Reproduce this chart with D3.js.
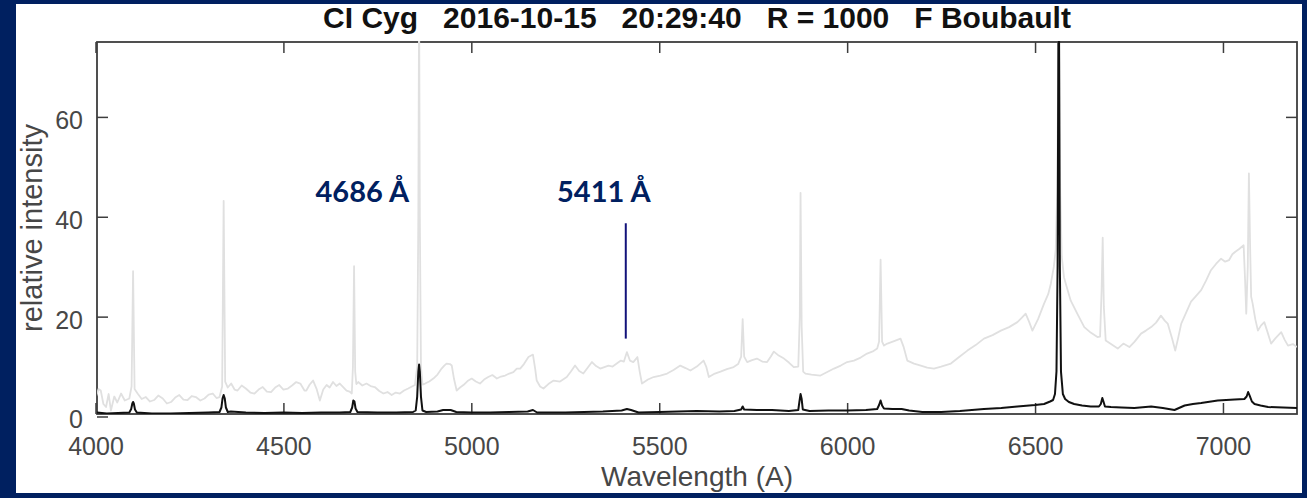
<!DOCTYPE html>
<html>
<head>
<meta charset="utf-8">
<script src="https://cdn.jsdelivr.net/npm/d3@7"></script>
<style>
  body { margin: 0; background: #002060; }
  svg { display: block; }
</style>
</head>
<body>
<div id="spectrum"></div>
<script>
// title and axis text
let titleText = 'CI Cyg   2016-10-15   20:29:40   R = 1000   F Boubault';
let xLabel = 'Wavelength (A)';
let yLabel = 'relative intensity';
let wavelengthTicks = [4000, 4500, 5000, 5500, 6000, 6500, 7000];
let intensityTicks = [0, 20, 40, 60];

// light grey spectrum [wavelength, intensity]
let greySpectrum = [
  [4001, 3.9], [4008, 5.5], [4014, 5.2], [4021, 2.5], [4028, 1.9], [4035, 4.5], [4041, 1.2],
  [4050, 4.0], [4058, 2.8], [4068, 4.6], [4078, 3.2], [4090, 3.6], [4096, 6], [4100, 29.1],
  [4104, 5.5], [4112, 4.6], [4123, 3.5], [4134, 3.9], [4145, 3.0], [4156, 3.3], [4167, 4.2],
  [4179, 3.6], [4190, 2.6], [4201, 2.9], [4212, 3.8], [4223, 4.3], [4234, 3.4], [4245, 3.3],
  [4256, 4.1], [4267, 3.9], [4279, 3.2], [4290, 3.6], [4301, 4.4], [4312, 4.6], [4322, 3.7],
  [4330, 3.9], [4337, 6], [4341, 43.2], [4345, 7], [4352, 5.8], [4361, 6.6], [4370, 5.4],
  [4378, 5.2], [4389, 6.2], [4400, 5.6], [4412, 4.8], [4423, 4.6], [4434, 5.4], [4445, 5.9],
  [4456, 5.0], [4467, 4.9], [4478, 5.8], [4489, 6.3], [4500, 5.4], [4512, 5.6], [4523, 6.2],
  [4534, 6.9], [4545, 6.6], [4556, 5.2], [4561, 5.2], [4570, 6.4], [4579, 7.2], [4588, 5.6],
  [4597, 3.2], [4606, 5.4], [4615, 6.3], [4623, 5.8], [4632, 6.9], [4641, 6.1], [4650, 6.6],
  [4659, 5.9], [4668, 5.2], [4676, 5.0], [4682, 4.6], [4685, 10], [4688, 30.1], [4691, 9],
  [4694, 6.5], [4699, 6.9], [4710, 6.2], [4721, 6.6], [4732, 6.1], [4743, 5.9], [4755, 5.1],
  [4766, 4.6], [4777, 4.9], [4788, 4.3], [4799, 4.8], [4810, 4.6], [4821, 5.2], [4832, 5.6],
  [4842, 6.0], [4850, 6.3], [4856, 10], [4859, 40], [4861, 85], [4863, 40], [4866, 10],
  [4870, 6.4], [4877, 6.6], [4888, 7.0], [4899, 7.6], [4910, 8.4], [4921, 9.6], [4928, 10.2],
  [4934, 10.6], [4943, 10.5], [4948, 10.2], [4954, 7.5], [4961, 5.2], [4970, 5.8], [4979, 6.3],
  [4990, 7.1], [5001, 7.6], [5012, 7.0], [5023, 6.6], [5034, 7.4], [5045, 7.9], [5056, 8.3],
  [5068, 7.6], [5079, 8.0], [5090, 8.2], [5101, 8.6], [5112, 8.9], [5121, 9.6], [5130, 9.6],
  [5140, 10.5], [5152, 11.9], [5164, 12.4], [5170, 9.5], [5174, 7.2], [5183, 6.0], [5192, 5.6],
  [5205, 6.5], [5219, 7.2], [5236, 7.0], [5254, 7.9], [5265, 9.0], [5276, 10.2], [5287, 9.1],
  [5298, 8.6], [5310, 9.8], [5321, 10.9], [5332, 10.1], [5343, 9.6], [5354, 9.9], [5365, 10.2],
  [5376, 10.0], [5387, 10.6], [5398, 11.2], [5406, 11.0], [5414, 12.9], [5422, 11.2], [5431, 10.9],
  [5442, 11.9], [5448, 9.0], [5454, 6.6], [5470, 7.4], [5485, 7.9], [5503, 8.2], [5521, 8.6],
  [5538, 9.3], [5556, 10.2], [5570, 9.7], [5583, 9.2], [5600, 10.0], [5618, 11.2], [5625, 10.0],
  [5632, 7.9], [5648, 8.6], [5663, 9.0], [5680, 9.5], [5698, 9.9], [5710, 10.5], [5718, 12],
  [5722, 19.5], [5726, 12], [5734, 10.9], [5747, 11.3], [5760, 11.6], [5774, 11.0], [5787, 10.9],
  [5797, 12.0], [5805, 13.0], [5818, 12.2], [5832, 11.6], [5845, 10.8], [5858, 9.9], [5870, 10],
  [5874, 20], [5876, 44.8], [5879, 18], [5883, 9], [5889, 8.6], [5905, 8.4], [5929, 8.2],
  [5947, 8.9], [5965, 9.6], [5983, 10.2], [6000, 10.9], [6018, 11.2], [6036, 11.8], [6053, 12.6],
  [6070, 13.1], [6080, 13.6], [6085, 15], [6089, 31.4], [6093, 15], [6098, 14.2], [6107, 14.6],
  [6125, 15.1], [6142, 15.6], [6150, 14.0], [6160, 11.2], [6178, 10.6], [6196, 10.2], [6213, 9.8],
  [6231, 9.6], [6250, 10.0], [6276, 10.6], [6298, 11.9], [6320, 13.2], [6342, 14.3], [6364, 15.6],
  [6387, 16.3], [6409, 17.2], [6431, 17.9], [6453, 18.9], [6465, 19.8], [6475, 20.6], [6484, 19.0],
  [6493, 17.2], [6508, 19.5], [6524, 22.6], [6535, 24.5], [6542, 26.6], [6550, 30], [6555, 33.4],
  [6559, 45], [6563, 85], [6567, 45], [6571, 32], [6577, 27.9], [6586, 25.5], [6595, 23.2],
  [6613, 20.5], [6631, 17.9], [6648, 16.8], [6666, 15.9], [6673, 16], [6677, 25], [6680, 35.8],
  [6683, 22], [6688, 15.2], [6704, 14.4], [6720, 13.6], [6735, 14.6], [6751, 13.9], [6765, 15.0],
  [6782, 16.6], [6795, 17.2], [6809, 17.9], [6822, 18.8], [6835, 20.2], [6845, 19.2], [6853, 18.6],
  [6865, 15.5], [6873, 13.2], [6881, 15.8], [6889, 18.6], [6902, 20.8], [6915, 23], [6928, 24.1],
  [6942, 25.3], [6955, 27.2], [6968, 29.3], [6982, 30.6], [6995, 31.6], [7006, 31.0], [7016, 31.3],
  [7025, 32.5], [7033, 33], [7044, 33.6], [7055, 34.3], [7059, 27], [7062, 20.6], [7066, 30],
  [7069, 48.7], [7072, 35], [7075, 24], [7079, 22.6], [7086, 19.5], [7093, 17.2], [7101, 18.2],
  [7110, 18.9], [7119, 16.8], [7128, 14.6], [7140, 15.7], [7155, 16.9], [7164, 15.4], [7173, 14.2],
  [7186, 14.5], [7197, 13.9]
];

// black spectrum [wavelength, intensity]
let blackSpectrum = [
  [4004, 0.8], [4030, 0.6], [4060, 0.7], [4090, 0.8], [4095, 1.5], [4098, 2.6], [4100, 2.9],
  [4102, 2.6], [4105, 1.4], [4110, 0.8], [4150, 0.6], [4200, 0.6], [4250, 0.7], [4300, 0.8],
  [4330, 0.9], [4335, 1.8], [4338, 3.6], [4341, 4.3], [4344, 3.6], [4347, 1.8], [4352, 0.9],
  [4360, 1.0], [4400, 0.8], [4450, 0.7], [4500, 0.8], [4550, 0.7], [4600, 0.8], [4650, 0.8],
  [4678, 0.9], [4683, 1.8], [4686, 3.2], [4689, 3.0], [4692, 1.6], [4697, 0.9], [4750, 0.8],
  [4800, 0.8], [4845, 0.9], [4852, 1.2], [4856, 4], [4859, 9], [4861, 10.4], [4863, 9],
  [4866, 4], [4870, 1.2], [4880, 0.9], [4910, 1.0], [4925, 1.3], [4945, 1.3], [4960, 0.9],
  [5000, 0.8], [5050, 0.8], [5100, 0.9], [5150, 1.0], [5164, 1.3], [5175, 0.8], [5250, 0.8],
  [5300, 0.9], [5350, 1.0], [5400, 1.2], [5414, 1.5], [5425, 1.3], [5445, 0.8], [5500, 0.9],
  [5550, 1.0], [5600, 1.1], [5660, 1.0], [5700, 1.1], [5718, 1.4], [5722, 2.0], [5726, 1.4],
  [5760, 1.3], [5800, 1.3], [5845, 1.1], [5870, 1.3], [5873, 3.0], [5876, 4.5], [5879, 3.5],
  [5882, 1.4], [5900, 1.1], [5950, 1.2], [6000, 1.2], [6050, 1.3], [6080, 1.5], [6085, 2.3],
  [6089, 3.2], [6093, 2.2], [6098, 1.6], [6120, 1.5], [6145, 1.5], [6165, 1.2], [6200, 0.9],
  [6250, 0.9], [6300, 1.1], [6364, 1.5], [6410, 1.7], [6453, 2.0], [6500, 2.3], [6524, 2.5],
  [6540, 3.0], [6548, 3.3], [6553, 4.5], [6557, 9], [6560, 30], [6563, 95], [6566, 30],
  [6569, 9], [6574, 4.5], [6580, 3.5], [6590, 2.9], [6604, 2.5], [6625, 2.2], [6648, 2.0],
  [6670, 2.0], [6675, 2.5], [6679, 3.7], [6682, 3.0], [6686, 2.0], [6702, 1.9], [6730, 1.8],
  [6764, 1.7], [6809, 2.0], [6840, 1.7], [6871, 1.3], [6898, 2.2], [6920, 2.5], [6942, 2.7],
  [6986, 3.2], [7031, 3.4], [7057, 3.5], [7063, 4.0], [7067, 4.9], [7071, 4.2], [7077, 3.0],
  [7084, 2.5], [7100, 2.2], [7120, 1.9], [7160, 1.8], [7197, 1.7]
];

// annotations
let markerLabels = ['4686 Å', '5411 Å'];
let markerWavelengths = [4686, 5411];
let markerLineWavelength = 5411;
let markerLineRange = [15.6, 38.7];
let markerLabelLevel = 43;

function drawSpectrum() {
  let width = 1307;
  let height = 498;
  let panel = { left: 16, top: 4, right: 1302, bottom: 493 };
  let plot = { left: 97, top: 42, right: 1297, bottom: 414 };
  let navy = '#002060';
  let axisColor = '#3d3d3d';
  let textColor = '#474747';
  let tickLen = 11;

  let svg = d3.select('#spectrum')
    .append('svg')
    .attr('width', width)
    .attr('height', height);

  // background and white panel
  svg.append('rect')
    .attr('width', width)
    .attr('height', height)
    .attr('fill', navy);
  svg.append('rect')
    .attr('x', panel.left)
    .attr('y', panel.top)
    .attr('width', panel.right - panel.left)
    .attr('height', panel.bottom - panel.top)
    .attr('fill', 'white');

  let defs = svg.append('defs');
  defs.append('clipPath').attr('id', 'plotClip')
    .append('rect')
    .attr('x', plot.left)
    .attr('y', plot.top - 1)
    .attr('width', plot.right - plot.left)
    .attr('height', plot.bottom - plot.top + 1);

  let g = svg.append('g');

  // scales
  let xScale = d3.scaleLinear()
    .domain([4004, 7197])
    .range([plot.left, plot.right]);
  let yScale = d3.scaleLinear()
    .domain([0.5, 75])
    .range([plot.bottom, plot.top]);

  // axes
  function styleAxis(sel) {
    sel.select('.domain').remove();
    sel.selectAll('line').attr('stroke', axisColor).attr('stroke-width', 1.5);
    sel.selectAll('text')
      .attr('fill', textColor)
      .attr('font-family', "'Liberation Sans', Arial, sans-serif")
      .attr('font-size', 25);
  }

  g.append('g')
    .attr('transform', 'translate(0,' + plot.bottom + ')')
    .call(d3.axisBottom(xScale).tickValues(wavelengthTicks).tickSize(-tickLen)
      .tickPadding(23).tickFormat(d3.format('d')))
    .call(styleAxis);
  g.append('g')
    .attr('transform', 'translate(0,' + plot.top + ')')
    .call(d3.axisTop(xScale).tickValues(wavelengthTicks).tickSize(-tickLen).tickFormat(''))
    .call(styleAxis);
  g.append('g')
    .attr('transform', 'translate(' + plot.left + ',0)')
    .call(d3.axisLeft(yScale).tickValues(intensityTicks).tickSize(-tickLen)
      .tickPadding(14).tickFormat(d3.format('d')))
    .call(styleAxis)
    .selectAll('text')
    .attr('dy', '0.46em');
  g.append('g')
    .attr('transform', 'translate(' + plot.right + ',0)')
    .call(d3.axisRight(yScale).tickValues(intensityTicks.slice(1)).tickSize(-tickLen).tickFormat(''))
    .call(styleAxis);

  // box
  g.append('rect')
    .attr('x', plot.left)
    .attr('y', plot.top)
    .attr('width', plot.right - plot.left)
    .attr('height', plot.bottom - plot.top)
    .attr('fill', 'none')
    .attr('stroke', axisColor)
    .attr('stroke-width', 1.8);

  // spectra
  let line = d3.line()
    .x(d => xScale(d[0]))
    .y(d => yScale(d[1]));
  let lines = g.append('g').attr('clip-path', 'url(#plotClip)');
  lines.append('path')
    .datum(greySpectrum)
    .attr('d', line)
    .attr('fill', 'none')
    .attr('stroke', '#e0e0e0')
    .attr('stroke-width', 1.8)
    .attr('stroke-linejoin', 'round');
  lines.append('path')
    .datum(blackSpectrum)
    .attr('d', line)
    .attr('fill', 'none')
    .attr('stroke', '#111')
    .attr('stroke-width', 2)
    .attr('stroke-linejoin', 'round');

  // title
  g.append('text')
    .attr('x', (plot.left + plot.right) / 2)
    .attr('y', 28)
    .attr('text-anchor', 'middle')
    .attr('font-family', "'Liberation Sans', Arial, sans-serif")
    .attr('font-size', 30)
    .attr('font-weight', 'bold')
    .attr('fill', '#111')
    .style('white-space', 'pre')
    .text(titleText);

  // axis labels
  g.append('text')
    .attr('x', (plot.left + plot.right) / 2)
    .attr('y', 486)
    .attr('text-anchor', 'middle')
    .attr('font-family', "'Liberation Sans', Arial, sans-serif")
    .attr('font-size', 28)
    .attr('fill', textColor)
    .text(xLabel);
  g.append('text')
    .attr('transform', 'translate(42,' + ((plot.top + plot.bottom) / 2) + ') rotate(-90)')
    .attr('text-anchor', 'middle')
    .attr('font-family', "'Liberation Sans', Arial, sans-serif")
    .attr('font-size', 29)
    .attr('fill', textColor)
    .text(yLabel);

  // annotations
  let labelDx = [9, -22];
  g.selectAll('.marker-label')
    .data(markerLabels)
    .enter()
    .append('text')
    .attr('class', 'marker-label')
    .attr('x', (d, i) => xScale(markerWavelengths[i]) + labelDx[i])
    .attr('y', yScale(markerLabelLevel))
    .attr('text-anchor', 'middle')
    .attr('font-family', 'Lato, "Open Sans", sans-serif')
    .attr('font-size', 29)
    .attr('font-weight', 'bold')
    .attr('fill', navy)
    .text(d => d);
  g.append('line')
    .attr('x1', xScale(markerLineWavelength))
    .attr('x2', xScale(markerLineWavelength))
    .attr('y1', yScale(markerLineRange[0]))
    .attr('y2', yScale(markerLineRange[1]))
    .attr('stroke', '#12127a')
    .attr('stroke-width', 2);
}

drawSpectrum();
</script>
</body>
</html>
